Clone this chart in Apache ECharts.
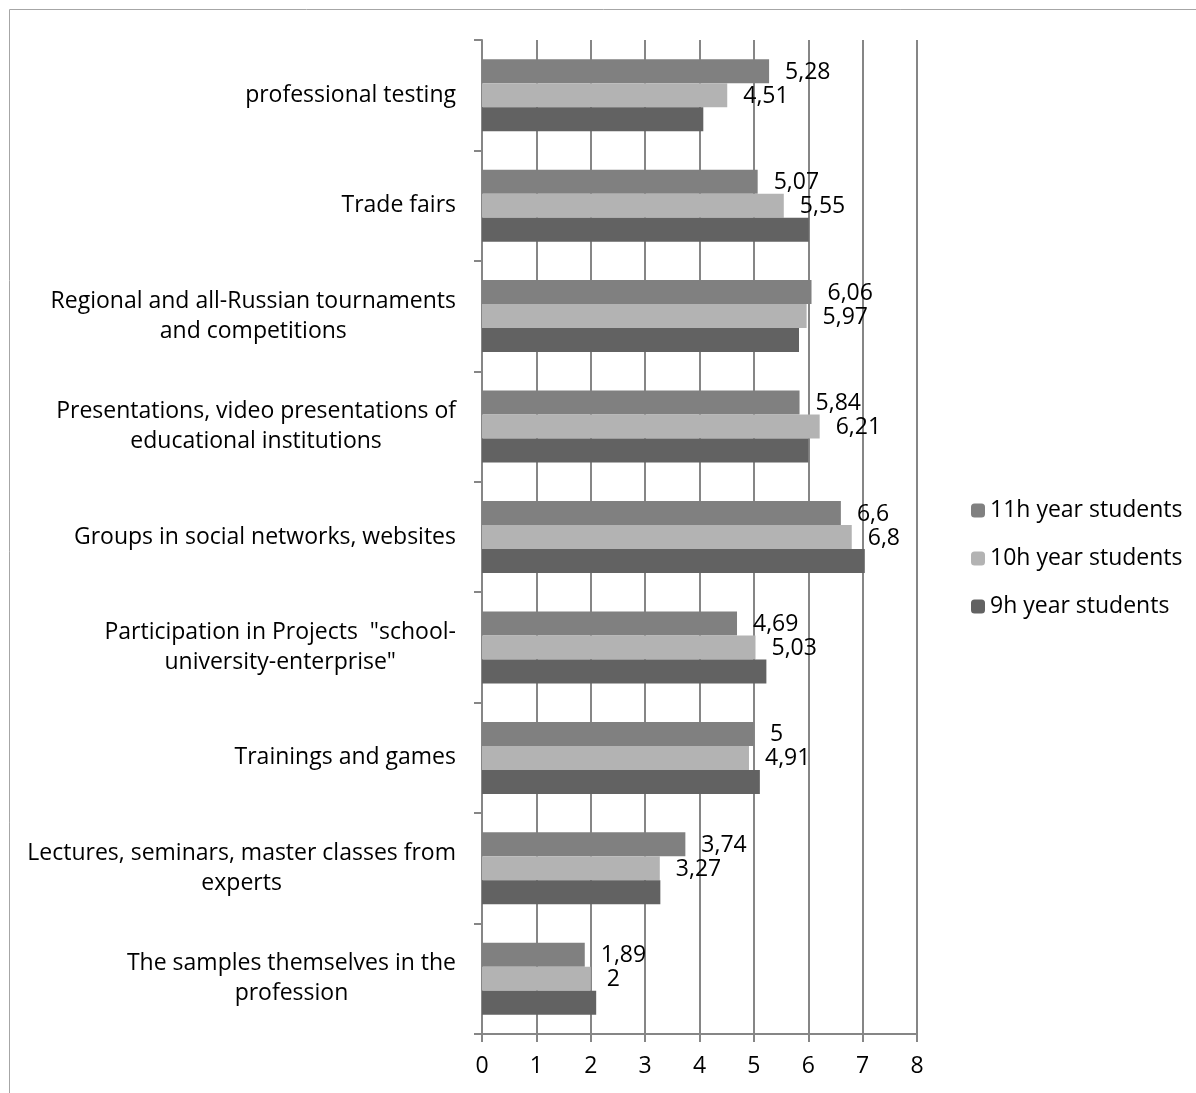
<!DOCTYPE html>
<html>
<head>
<meta charset="utf-8">
<script src="https://cdn.jsdelivr.net/npm/echarts@6/dist/echarts.min.js"></script>
<style>
    html, body {margin: 0; padding: 0; background: #fff;}
    #main {width: 1196px; height: 1093px;}
</style>
</head>
<body>
<div id="main"></div>
<script>
var categories = [
    'professional testing',
    'Trade fairs',
    'Regional and all-Russian tournaments\nand competitions',
    'Presentations, video presentations of\neducational institutions',
    'Groups in social networks, websites',
    'Participation in Projects  "school-\nuniversity-enterprise"',
    'Trainings and games',
    'Lectures, seminars, master classes from\nexperts',
    'The samples themselves in the\nprofession'
];
var year11 = [5.28, 5.07, 6.06, 5.84, 6.6, 4.69, 5, 3.74, 1.89];
var year10 = [4.51, 5.55, 5.97, 6.21, 6.8, 5.03, 4.91, 3.27, 2];
var year9 = [4.07, 6.01, 5.83, 6.0, 7.04, 5.23, 5.11, 3.28, 2.1];
var xTicks = [0, 8, 1];

var font = 'Open Sans';
var fs = 23;
var myChart = echarts.init(document.getElementById('main'));

// label with comma decimal
function commaLabel(p) {
    return String(p.value).replace('.', ',');
}

var option = {
    animation: false,
    textStyle: {fontFamily: font},
    graphic: [{
        type: 'rect',
        shape: {x: 9.5, y: 9.5, width: 1200, height: 1200},
        style: {fill: 'none', stroke: '#a6a6a6', lineWidth: 1}
    }],
    grid: {left: 482, right: 279, top: 40, bottom: 59},
    legend: {
        orient: 'vertical',
        left: 966,
        top: 494,
        itemWidth: 14,
        itemHeight: 14,
        itemGap: 25,
        data: ['11h year students', '10h year students', '9h year students'],
        textStyle: {fontFamily: font, fontSize: fs, color: '#000'}
    },
    xAxis: {
        type: 'value',
        min: xTicks[0],
        max: xTicks[1],
        interval: xTicks[2],
        axisLine: {show: true, lineStyle: {color: '#868686', width: 2}},
        axisTick: {show: true, length: 8, lineStyle: {color: '#868686', width: 2}},
        splitLine: {show: true, lineStyle: {color: '#868686', width: 2}},
        axisLabel: {fontFamily: font, fontSize: fs, color: '#000', margin: 21}
    },
    yAxis: {
        type: 'category',
        inverse: true,
        data: categories,
        axisLine: {show: true, lineStyle: {color: '#868686', width: 2}},
        axisTick: {show: true, length: 8, lineStyle: {color: '#868686', width: 2}},
        axisLabel: {
            margin: 26,
            formatter: function (v) {
                return '{a|' + v + '}';
            },
            rich: {
                a: {fontFamily: font, fontSize: fs, color: '#000', lineHeight: 30, align: 'center'}
            }
        }
    },
    series: [
        {
            name: '11h year students',
            type: 'bar',
            data: year11,
            barWidth: 24,
            barGap: '0%',
            itemStyle: {color: '#808080'},
            label: {show: true, position: 'right', distance: 16, offset: [0, 1], formatter: commaLabel,
                fontFamily: font, fontSize: fs, color: '#000'}
        },
        {
            name: '10h year students',
            type: 'bar',
            data: year10,
            barWidth: 24,
            barGap: '0%',
            itemStyle: {color: '#b3b3b3'},
            label: {show: true, position: 'right', distance: 16, offset: [0, 1], formatter: commaLabel,
                fontFamily: font, fontSize: fs, color: '#000'}
        },
        {
            name: '9h year students',
            type: 'bar',
            data: year9,
            barWidth: 24,
            barGap: '0%',
            itemStyle: {color: '#626262'}
        }
    ]
};
myChart.setOption(option);
</script>
</body>
</html>
